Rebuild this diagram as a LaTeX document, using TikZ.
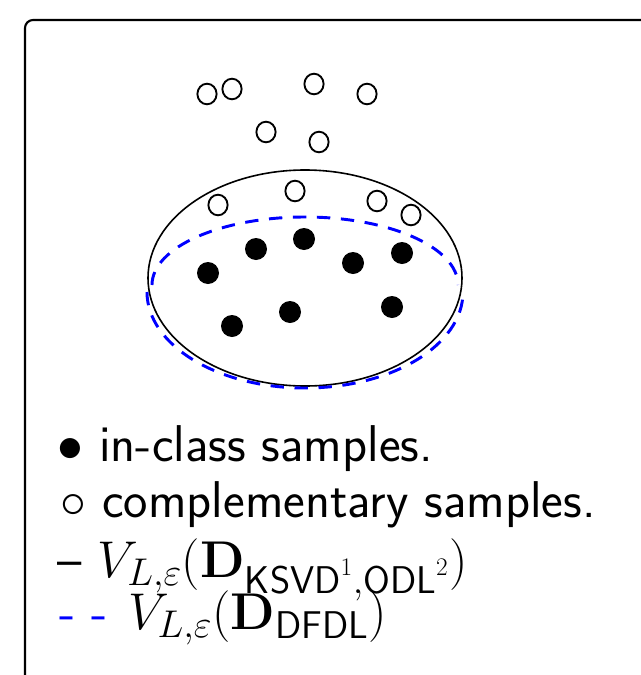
\RequirePackage{fix-cm}
\documentclass[tikz,border=0pt]{standalone}
\usepackage{amsmath}
\usetikzlibrary{calc}
\DeclareMathSizes{38.8}{38.8}{29}{19}
\begin{document}
\begin{tikzpicture}[x=0.75pt,y=-0.75pt,
  insample/.style={fill=black},
  outsample/.style={draw=black,line width=1.4pt,fill=white},
  bluedash/.style={blue,line width=2.2pt,dash pattern=on 10pt off 8pt},
  legendtext/.style={anchor=base west,inner sep=0pt,font=\sffamily\fontsize{38.8}{46}\selectfont}]
\useasboundingbox (0,0) rectangle (640,675);
\draw[line width=1.6pt,rounded corners=6pt] (25,20) rectangle (720,760);
% black ellipse
\coordinate (c) at (305,278);
\draw[line width=1.2pt] (c) ellipse [x radius=157, y radius=108];
% blue dashed region
\coordinate (bu) at (305,285);
\coordinate (bl) at (305,292);
\draw[bluedash] ($(bu)+(-153,0)$) arc[start angle=180,end angle=360,x radius=153,y radius=68];
\draw[bluedash] ($(bl)+(-158,0)$) arc[start angle=180,end angle=0,x radius=158,y radius=96];
% in-class samples
\foreach \p [count=\i] in {(208,273),(256,249),(304,239),(353,263),(402,253),(232,326),(290,312),(392,307)}
  \fill[insample] \p coordinate (in\i) circle [radius=11];
% complementary samples
\foreach \p [count=\i] in {(207,94),(232,89),(314,84),(367,94),(266,132),(319,142),(218,205),(295,191),(377,201),(411,215)}
  \draw[outsample] \p coordinate (out\i) ellipse [x radius=9.6, y radius=10.3];
% legend
\node[legendtext] (l1) at (57,461) {$\bullet$ in-class samples.};
\node[legendtext] (l2) at (60,517) {$\circ$ complementary samples.};
\node[legendtext] (l3) at (57,577) {-- $V_{L,\varepsilon}(\mathbf{D}_{\textsf{KSVD}^1,\textsf{ODL}^2})$};
\node[legendtext] (l4) at (59,629) {{\color{blue}- -}\hspace{3pt} $V_{L,\varepsilon}(\mathbf{D}_{\textsf{DFDL}})$};
\end{tikzpicture}
\end{document}
